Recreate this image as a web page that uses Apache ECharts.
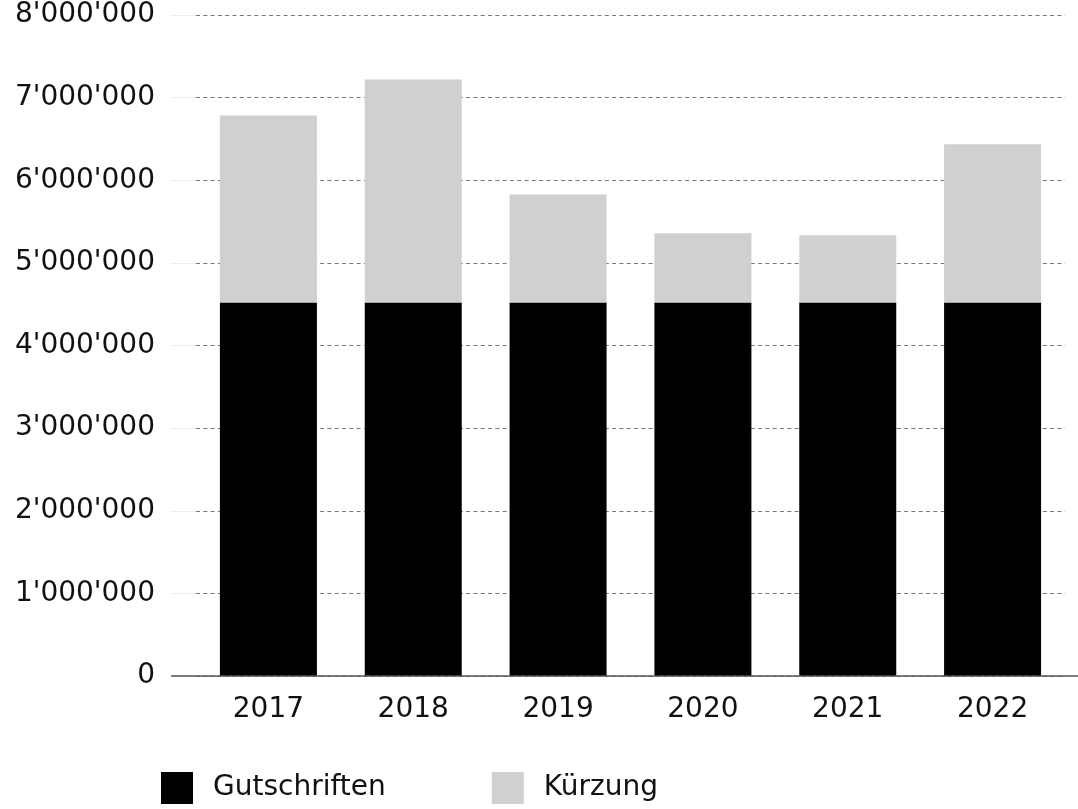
<!DOCTYPE html>
<html>
<head>
<meta charset="utf-8">
<script src="https://cdn.jsdelivr.net/npm/echarts@6/dist/echarts.min.js"></script>
<style>
html,body{margin:0;padding:0;background:#fff;}
#chart{width:1078px;height:809px;}
</style>
</head>
<body>
<div id="chart"></div>
<script>
const years = ['2017', '2018', '2019', '2020', '2021', '2022'];
const gutschriften = [4520000, 4520000, 4520000, 4520000, 4520000, 4520000];
const kuerzung = [2264000, 2700000, 1307000, 840000, 815000, 1917000];
const seriesNames = ['Gutschriften', 'Kürzung'];
const yMin = 0, yMax = 8000000, yStep = 1000000;

const FONT = 'DejaVu Sans';
function fmt(v) {
  return String(Math.round(v)).replace(/\B(?=(\d{3})+(?!\d))/g, "'");
}

const chart = echarts.init(document.getElementById('chart'), null, {renderer: 'canvas'});
const option = {
  animation: false,
  backgroundColor: '#ffffff',
  textStyle: {fontFamily: FONT},
  grid: {left: 196, right: 13, top: 15, bottom: 133, containLabel: false},
  legend: {
    left: 161, top: 772, padding: 0,
    itemWidth: 32, itemHeight: 32, itemGap: 106,
    icon: 'rect',
    textStyle: {fontFamily: FONT, fontSize: 28, color: '#111', padding: [8, 0, 0, 15]},
    data: seriesNames
  },
  xAxis: {
    type: 'category',
    data: years,
    axisLine: {show: false},
    axisTick: {show: false},
    axisLabel: {fontFamily: FONT, fontSize: 28, color: '#111', margin: 20}
  },
  yAxis: {
    type: 'value',
    min: yMin, max: yMax, interval: yStep,
    axisLine: {show: false},
    axisTick: {show: true, length: 25, lineStyle: {color: '#eeeeee', width: 1}},
    axisLabel: {fontFamily: FONT, fontSize: 28, color: '#111', margin: 41, padding: [7, 0, 0, 0], formatter: fmt},
    splitLine: {show: true, lineStyle: {color: '#777777', width: 1, type: [4, 3.3]}}
  },
  series: [
    {
      name: seriesNames[0], type: 'bar', stack: 'total', data: gutschriften,
      barWidth: 97, itemStyle: {color: '#000000'}
    },
    {
      name: seriesNames[1], type: 'bar', stack: 'total', data: kuerzung,
      barWidth: 97, itemStyle: {color: '#d0d0d0'}
    }
  ]
};
chart.setOption(option);
const y0 = chart.convertToPixel({yAxisIndex: 0}, 0);
chart.setOption({
  graphic: [{
    type: 'line', z: 10,
    shape: {x1: 171, y1: y0, x2: 1078, y2: y0},
    style: {stroke: '#555555', lineWidth: 1.5}
  }]
});
</script>
</body>
</html>
